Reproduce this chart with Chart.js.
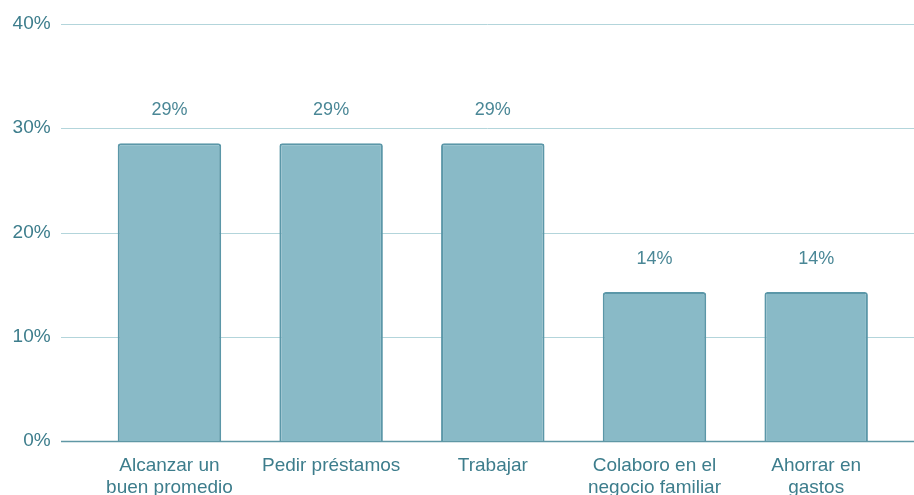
<!DOCTYPE html>
<html>
<head>
<meta charset="utf-8">
<script src="https://cdn.jsdelivr.net/npm/chart.js@4"></script>
<style>
  html, body { margin:0; padding:0; background:#fff; }
  #wrap { width:914px; height:495px; }
</style>
</head>
<body>
<div id="wrap"><canvas id="c"></canvas></div>
<script>
// datos
const categories = [
  ['Alcanzar un', 'buen promedio'],
  'Pedir préstamos',
  'Trabajar',
  ['Colaboro en el', 'negocio familiar'],
  ['Ahorrar en', 'gastos']
];
const values = [28.57, 28.57, 28.57, 14.29, 14.29];
const yTicks = [0, 10, 20, 30, 40];

const txtColor = '#3d7d8c';
const gridColor = '#b3d5db';
const fontFam = '"Liberation Sans", Arial, sans-serif';

// lineas de la cuadricula a todo lo ancho
const fullGrid = {
  id: 'fullGrid',
  beforeDatasetsDraw(chart) {
    const { ctx, scales: { y } } = chart;
    ctx.save();
    yTicks.forEach(v => {
      const py = Math.round(y.getPixelForValue(v)) + 0.5;
      ctx.strokeStyle = v === 0 ? '#5f97a5' : gridColor;
      ctx.lineWidth = v === 0 ? 1.5 : 1;
      ctx.beginPath(); ctx.moveTo(61, py); ctx.lineTo(chart.width, py); ctx.stroke();
    });
    ctx.restore();
  }
};

// etiquetas encima de las barras
const topLabels = {
  id: 'topLabels',
  afterDatasetsDraw(chart) {
    const { ctx } = chart;
    const meta = chart.getDatasetMeta(0);
    ctx.save();
    ctx.fillStyle = '#4a8796';
    ctx.font = '18px ' + fontFam;
    ctx.textAlign = 'center';
    ctx.textBaseline = 'middle';
    meta.data.forEach((bar, i) => {
      ctx.fillText(Math.round(values[i]) + '%', bar.x, bar.y - 33);
    });
    ctx.restore();
  }
};

new Chart(document.getElementById('c'), {
  type: 'bar',
  data: {
    labels: categories,
    datasets: [{
      data: values,
      backgroundColor: '#89bac7',
      borderColor: '#5b97a8',
      borderWidth: 2,
      borderRadius: 3,
      borderSkipped: 'bottom',
      barPercentage: 0.64,
      categoryPercentage: 1
    }]
  },
  options: {
    responsive: true,
    maintainAspectRatio: false,
    animation: false,
    layout: { padding: { top: 24, right: 17, left: 0, bottom: 0 } },
    plugins: { legend: { display: false }, tooltip: { enabled: false } },
    scales: {
      x: {
        grid: { display: false },
        border: { display: false },
        ticks: { color: txtColor, font: { family: fontFam, size: 19 }, padding: 5, maxRotation: 0, autoSkip: false },
        afterFit(s) { s.height = 54; }
      },
      y: {
        min: 0, max: 40,
        grid: { display: false, drawTicks: true, tickLength: 38 },
        border: { display: false },
        afterBuildTicks(s) { s.ticks = yTicks.map(v => ({ value: v })); },
        ticks: { color: txtColor, font: { family: fontFam, size: 19 }, padding: 0, callback: v => v + '%' },
        afterFit(s) { s.width = 88.6; }
      }
    }
  },
  plugins: [fullGrid, topLabels]
});
</script>
</body>
</html>
